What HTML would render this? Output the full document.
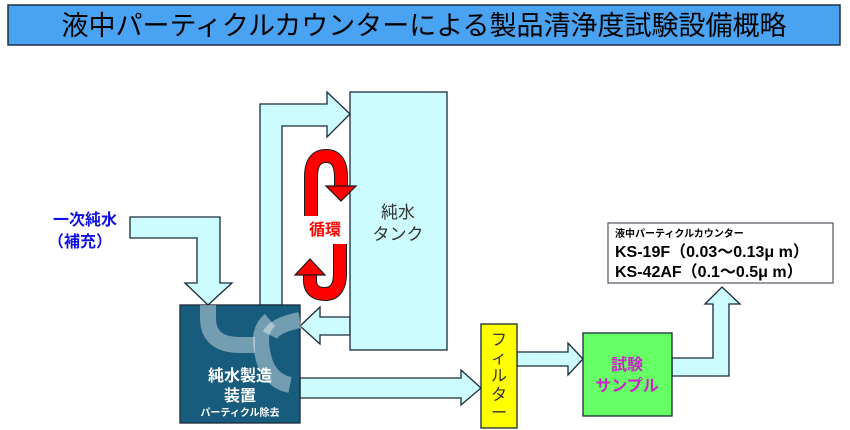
<!DOCTYPE html>
<html><head><meta charset="utf-8"><style>
body{margin:0;width:850px;height:430px;background:#fff;overflow:hidden}
svg{display:block}
text{font-family:"Liberation Sans","Noto Sans CJK JP",sans-serif}
</style></head><body>
<svg width="850" height="430" viewBox="0 0 850 430">
<rect x="8" y="5" width="832" height="40" fill="#4aa3f2" stroke="#203040" stroke-width="1.5"/>
<text x="424" y="35" font-size="27" text-anchor="middle" fill="#000">液中パーティクルカウンターによる製品清浄度試験設備概略</text>

<g fill="#ccfcfd" stroke="#1a2a3a" stroke-width="1.3" stroke-linejoin="miter">
<polygon points="260,305 260,104 327,104 327,92 350,114 327,137 327,126 282,126 282,305"/>
<polygon points="130,217 220,217 220,283 232,283 208,305 185,283 197,283 197,238 130,238"/>
<polygon points="350,317 320,317 320,307 300,326 320,344 320,335 350,335"/>
<polygon points="300,378 461,378 461,370 481,388 461,405 461,398 300,398"/>
<polygon points="517,352 568,352 568,343 583,359 568,375 568,366 517,366"/>
<polygon points="672,358 713,358 713,304 705,304 722,287 740,304 729,304 729,376 672,376"/>
<rect x="350" y="92" width="97" height="258"/>
</g>
<text x="398" y="218" font-size="17" text-anchor="middle" fill="#333">純水</text>
<text x="398" y="240" font-size="17" text-anchor="middle" fill="#333">タンク</text>

<rect x="180" y="305" width="120" height="118" fill="#175c7c" stroke="#1a2a3a" stroke-width="1.3"/>
<g fill="none" stroke="#ffffff" stroke-opacity="0.4" stroke-width="16">
<path d="M208,305 V318 Q208,345 240,345 H255"/>
<path d="M270,320 Q258,330 262,350 Q266,380 290,385"/>
<path d="M300,320 Q275,325 270,335"/>
</g>
<text x="240" y="381" font-size="16" font-weight="bold" text-anchor="middle" fill="#fff">純水製造</text>
<text x="240" y="401" font-size="16" font-weight="bold" text-anchor="middle" fill="#fff">装置</text>
<text x="240" y="416" font-size="10" font-weight="bold" text-anchor="middle" fill="#fff">パーティクル除去</text>

<g fill="none" stroke="#1a1a1a" stroke-width="14"><path d="M311,216 V177 Q311,156 326,156 Q341,156 341,177 V186"/><path d="M340,244 V273 Q340,294 325,294 Q310,294 310,280 V275"/></g>
<g fill="none" stroke="#ff0000" stroke-width="12"><path d="M311,216 V177 Q311,156 326,156 Q341,156 341,177 V186"/><path d="M340,244 V273 Q340,294 325,294 Q310,294 310,280 V275"/></g>
<polygon points="326,186 356,186 341,201" fill="#ff0000" stroke="#1a1a1a" stroke-width="1.2"/>
<polygon points="295,275 325,275 310,259" fill="#ff0000" stroke="#1a1a1a" stroke-width="1.2"/>
<text x="325" y="235" font-size="16" font-weight="bold" text-anchor="middle" fill="#ff0000">循環</text>

<text x="85" y="225" font-size="16" font-weight="bold" text-anchor="middle" fill="#1010e0">一次純水</text>
<text x="80" y="247" font-size="16" font-weight="bold" text-anchor="middle" fill="#1010e0">（補充）</text>

<rect x="481" y="324" width="36" height="104" fill="#ffff00" stroke="#1a2a3a" stroke-width="1.3"/>
<text font-size="16" fill="#333" text-anchor="middle"><tspan x="499" y="345">フ</tspan><tspan x="499" y="363">ィ</tspan><tspan x="499" y="381">ル</tspan><tspan x="499" y="400">タ</tspan><tspan x="499" y="418">ー</tspan></text>

<rect x="583" y="333" width="89" height="83" fill="#66ff66" stroke="#1a2a3a" stroke-width="1.3"/>
<text x="627" y="370" font-size="16" font-weight="bold" text-anchor="middle" fill="#cc22cc">試験</text>
<text x="627" y="391" font-size="16" font-weight="bold" text-anchor="middle" fill="#cc22cc">サンプル</text>

<rect x="608" y="223" width="225" height="60" fill="#fff" stroke="#556" stroke-width="1.2"/>
<text x="615" y="237" font-size="10" font-weight="bold" fill="#000">液中パーティクルカウンター</text>
<text x="615" y="257" font-size="16" font-weight="bold" fill="#000">KS-19F（0.03～0.13μ m）</text>
<text x="615" y="277" font-size="16" font-weight="bold" fill="#000">KS-42AF（0.1～0.5μ m）</text>
</svg>
</body></html>
